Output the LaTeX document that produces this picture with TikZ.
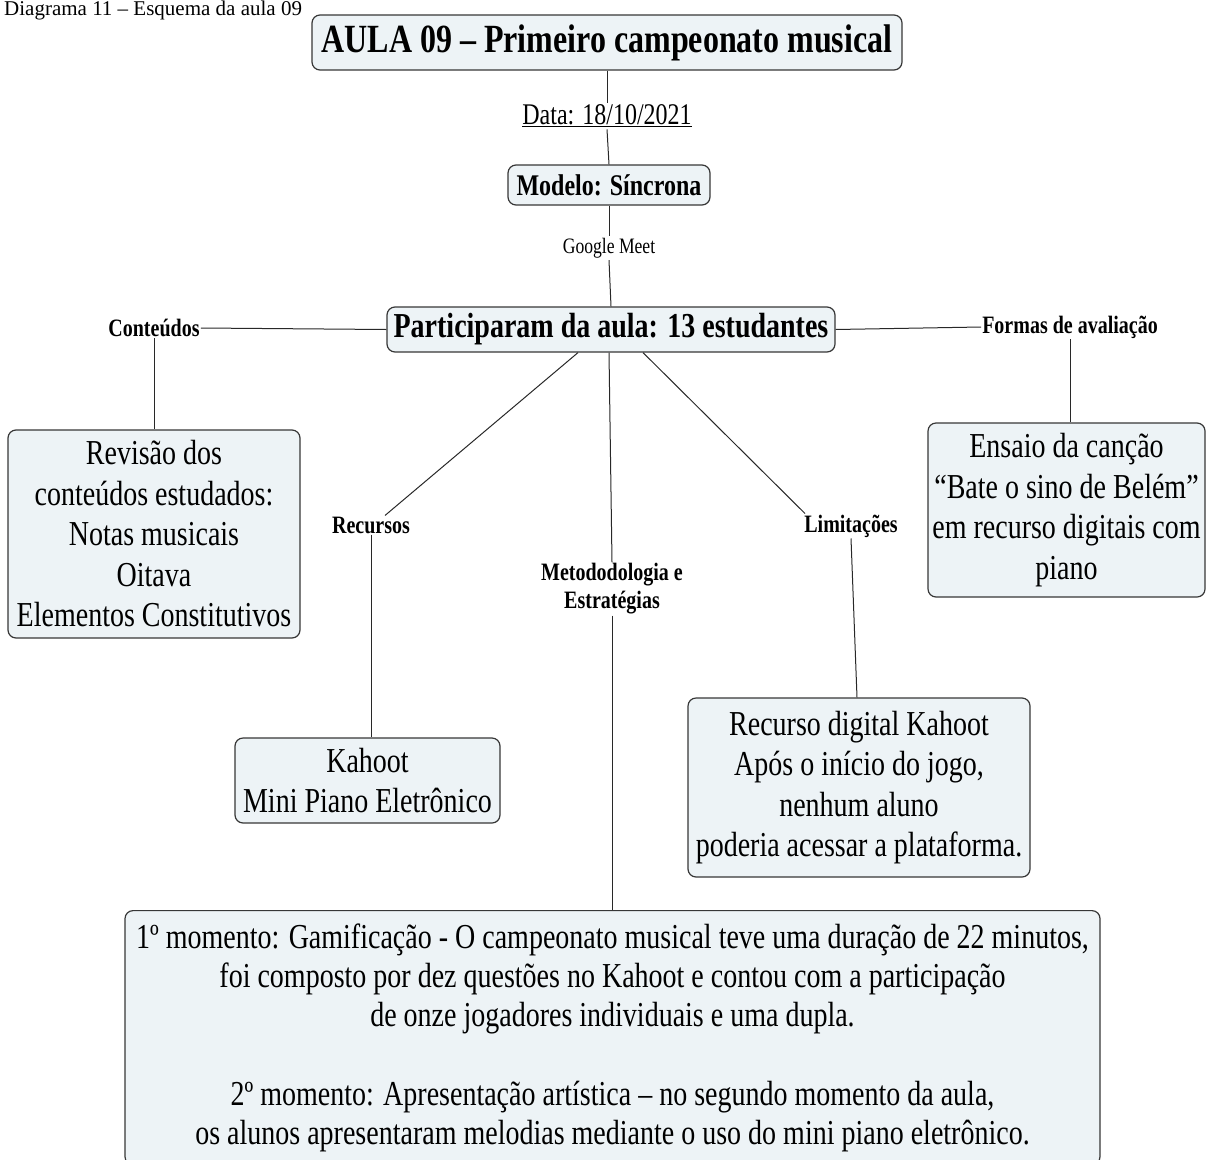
\documentclass[tikz,border=0pt]{standalone}
\usepackage{fontspec}
\setmainfont{Liberation Serif}[FakeStretch=0.8]
\newfontfamily\capfont{Liberation Serif}
\usetikzlibrary{calc}
\definecolor{boxfill}{RGB}{237,243,246}
\definecolor{boxline}{RGB}{55,55,55}
\definecolor{wirecol}{RGB}{40,40,40}

\begin{document}
\begin{tikzpicture}[x=1pt,y=-1pt,
  box/.style={draw=boxline, fill=boxfill, line width=1.2pt, rounded corners=8pt,
              align=center, inner sep=0pt},
  lbl/.style={inner sep=1pt, align=center, font={\bfseries\fontsize{25}{28}\selectfont}},
  wire/.style={draw=wirecol, line width=1pt},
  body/.style={font={\fontsize{35}{40.5}\selectfont}}
]
\useasboundingbox (0,0) rectangle (1206,1159);
\clip (0,0) rectangle (1206,1159);

% caption above the map
\node[anchor=base west, inner sep=0pt] (caption) at (4,15)
  {\capfont\fontsize{21}{24}\selectfont Diagrama 11 – Esquema da aula 09};

% central spine
\node[box, minimum width=590pt, minimum height=55pt,
      font={\bfseries\fontsize{40}{46}\selectfont}] (title) at (607,42.5)
  {AULA 09 – Primeiro campeonato musical};
\node[inner sep=2pt, font={\fontsize{30}{34}\selectfont}] (data) at (607,116)
  {\underline{Data: 18/10/2021}};
\node[box, minimum width=202pt, minimum height=40pt,
      font={\bfseries\fontsize{30}{34}\selectfont}] (modelo) at (609,185)
  {Modelo: Síncrona};
\node[inner sep=2pt, font={\fontsize{22}{26}\selectfont}] (meet) at (609,248)
  {Google Meet};
\node[box, minimum width=448pt, minimum height=45pt,
      font={\bfseries\fontsize{35}{40}\selectfont}] (part) at (611,329.5)
  {Participaram da aula: 13 estudantes};

% branch labels
\node[lbl] (lcont) at (154,328) {Conteúdos};
\node[lbl] (lform) at (1070,327) {Formas de avaliação};
\node[lbl] (lrec)  at (371,525) {Recursos};
\node[lbl] (llim)  at (851,526) {Limitações};
\node[lbl] (lmet)  at (612,589) {Metododologia e\\Estratégias};

% branch boxes
\node[box, body, minimum width=292pt, minimum height=208pt] (cont) at (154,534)
  {Revisão dos\\conteúdos estudados:\\Notas musicais\\Oitava\\Elementos Constitutivos};
\node[box, body, minimum width=277pt, minimum height=174pt] (form) at (1066.5,510)
  {Ensaio da canção\\“Bate o sino de Belém”\\em recurso digitais com\\piano};
\node[box, body, minimum width=265pt, minimum height=85pt] (kahoot) at (367.5,780.5)
  {Kahoot\\Mini Piano Eletrônico};
\node[box, body, minimum width=342pt, minimum height=179pt] (lim) at (859,787.5)
  {Recurso digital Kahoot\\Após o início do jogo,\\nenhum aluno\\poderia acessar a plataforma.};
\node[box, anchor=north, minimum width=975pt, inner ysep=13pt,
      font={\fontsize{35}{39.2}\selectfont}] (mom) at (612.5,910)
  {1º momento: Gamificação - O campeonato musical teve uma duração de 22 minutos,\\
   foi composto por dez questões no Kahoot e contou com a participação\\
   de onze jogadores individuais e uma dupla.\\[39.2pt]
   2º momento: Apresentação artística – no segundo momento da aula,\\
   os alunos apresentaram melodias mediante o uso do mini piano eletrônico.};

% connectors
\draw[wire] (title.south) -- (data.north);
\draw[wire] (data.south) -- (modelo.north);
\draw[wire] (modelo.south) -- (meet.north);
\draw[wire] (meet.south) -- (part.north);
\draw[wire] (part.west) -- (lcont.east);
\draw[wire] (part.east) -- (lform.west);
\draw[wire] (lcont.south) -- (lcont.south |- cont.north);
\draw[wire] (lform.south) -- (lform.south |- form.north);
\draw[wire] ([xshift=-33pt]part.south) -- ([xshift=14pt]lrec.north);
\draw[wire] (lrec.south) -- (lrec.south |- kahoot.north);
\draw[wire] ([xshift=-2pt]part.south) -- (lmet.north);
\draw[wire] (lmet.south) -- (lmet.south |- mom.north);
\draw[wire] ([xshift=32pt]part.south) -- ([xshift=-46pt]llim.north);
\draw[wire] (llim.south) -- ([xshift=-2pt]lim.north);
\end{tikzpicture}
\end{document}
